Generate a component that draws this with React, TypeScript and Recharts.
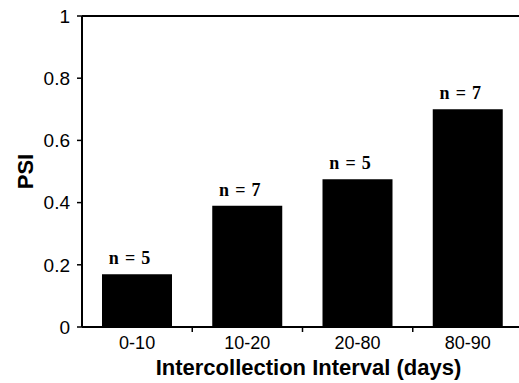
import { Bar, BarChart, Label, LabelList, ReferenceLine, XAxis, YAxis } from "recharts";

const categories = ["0-10", "10-20", "20-80", "80-90"];
const psiValues = [0.17, 0.39, 0.475, 0.7];
const sampleSizes = [5, 7, 5, 7];
const yTicks = [0, 0.2, 0.4, 0.6, 0.8, 1];

const data = categories.map((interval, i) => ({
  interval,
  psi: psiValues[i],
  n: sampleSizes[i],
}));

const sans = "'Liberation Sans', Arial, Helvetica, sans-serif";
const serif = "'Liberation Serif', 'Times New Roman', serif";

// category labels sit under the bars, tick marks sit between categories
function IntervalTick(props: any) {
  const { x, y, payload, index, visibleTicksCount } = props;
  const half = payload?.offset ?? 0;
  return (
    <g>
      <text x={x} y={y + 22} textAnchor="middle" fontFamily={sans} fontSize={18} fill="#000">
        {payload.value}
      </text>
      {index < visibleTicksCount - 1 && (
        <line x1={x + half} x2={x + half} y1={y} y2={y + 5} stroke="#000" strokeWidth={1.5} />
      )}
    </g>
  );
}

function PsiLabel(props: any) {
  const { viewBox } = props;
  const cx = viewBox.x + 33;
  const cy = viewBox.y + viewBox.height / 2;
  return (
    <text
      x={cx}
      y={cy}
      transform={`rotate(-90, ${cx}, ${cy})`}
      textAnchor="middle"
      fontFamily={sans}
      fontWeight="bold"
      fontSize={22}
      fill="#000"
    >
      PSI
    </text>
  );
}

export default function App() {
  return (
    <div style={{ position: "absolute", left: 0, top: 0, width: 519, height: 383, overflow: "hidden", background: "#fff" }}>
      <BarChart width={530} height={383} data={data} margin={{ top: 16, right: 7, left: 0, bottom: 0 }}>
        <XAxis
          dataKey="interval"
          height={56}
          tickLine={false}
          tickSize={0}
          tickMargin={0}
          tick={<IntervalTick />}
          axisLine={{ stroke: "#000", strokeWidth: 2 }}
        >
          <Label
            value="Intercollection Interval (days)"
            position="insideBottom"
            offset={8}
            dx={6}
            fontFamily={sans}
            fontWeight="bold"
            fontSize={22}
            fill="#000"
          />
        </XAxis>
        <YAxis
          width={82}
          domain={[0, 1]}
          ticks={yTicks}
          tickFormatter={(v) => String(v)}
          tickSize={5}
          tickMargin={7}
          tick={{ fill: "#000", fontSize: 19, fontFamily: sans }}
          tickLine={{ stroke: "#000", strokeWidth: 1.5 }}
          axisLine={{ stroke: "#000", strokeWidth: 2 }}
          label={<PsiLabel />}
        />
        <ReferenceLine y={1} stroke="#000" strokeWidth={2} />
        <Bar dataKey="psi" fill="#000" barSize={70} isAnimationActive={false}>
          <LabelList
            dataKey="n"
            position="top"
            offset={10}
            dx={-7}
            formatter={(v: any) => `n = ${v}`}
            fontFamily={serif}
            fontSize={18}
            fontWeight="bold"
            letterSpacing={0.8}
            fill="#000"
          />
        </Bar>
      </BarChart>
    </div>
  );
}
